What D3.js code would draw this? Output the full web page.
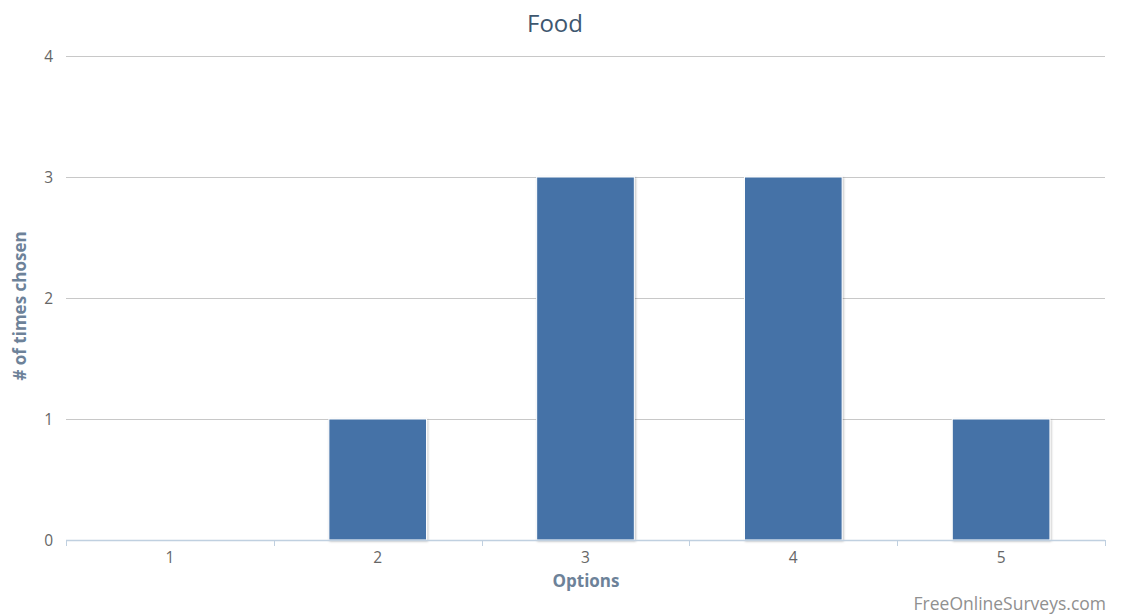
<!DOCTYPE html>
<html>
<head>
<meta charset="utf-8">
<script src="https://cdn.jsdelivr.net/npm/d3@7"></script>
<style>
  html, body { margin: 0; padding: 0; background: #fff; }
  svg { display: block; font-family: "Open Sans", "DejaVu Sans", sans-serif; }
</style>
</head>
<body>
<svg id="chart" width="1121" height="615"></svg>
<script>
// Survey answer counts for the "Food" question
const categories = ["1", "2", "3", "4", "5"];
const counts = [0, 1, 3, 3, 1];
const yTicks = [0, 1, 2, 3, 4];

const W = 1121, H = 615;
const margin = { left: 66, right: 16, top: 56, bottom: 75 };
const svg = d3.select("#chart");

const x = d3.scaleBand()
  .domain(categories)
  .range([margin.left, W - margin.right])
  .paddingInner(0.53)
  .paddingOuter(0.265);

const y = d3.scaleLinear()
  .domain([0, 4])
  .range([H - margin.bottom, margin.top]);

// Horizontal grid lines with value labels
const grid = svg.append("g");
grid.selectAll("line")
  .data(yTicks.filter(d => d > 0))
  .join("line")
  .attr("x1", margin.left).attr("x2", W - margin.right)
  .attr("y1", d => Math.round(y(d)) + 0.5).attr("y2", d => Math.round(y(d)) + 0.5)
  .attr("stroke", "#c8c8c8").attr("stroke-width", 1);

svg.append("g").selectAll("text")
  .data(yTicks)
  .join("text")
  .attr("x", 53).attr("y", d => y(d) + 6)
  .attr("text-anchor", "end")
  .attr("fill", "#666").attr("font-size", 15.5)
  .text(d => d);

// Bars with a soft drop shadow and thin white outline
const defs = svg.append("defs");
const f = defs.append("filter").attr("id", "shadow")
  .attr("x", "-10%").attr("y", "-10%").attr("width", "130%").attr("height", "130%");
f.append("feDropShadow").attr("dx", 1).attr("dy", 1).attr("stdDeviation", 1)
  .attr("flood-color", "#000").attr("flood-opacity", 0.25);

svg.append("g").selectAll("rect")
  .data(categories.map((c, i) => ({ c, v: counts[i] })).filter(d => d.v > 0))
  .join("rect")
  .attr("x", d => x(d.c))
  .attr("y", d => y(d.v))
  .attr("width", x.bandwidth())
  .attr("height", d => y(0) - y(d.v))
  .attr("fill", "#4572a7")
  .attr("stroke", "#fff").attr("stroke-width", 1)
  .attr("filter", "url(#shadow)");

// X axis line, boundary ticks and category labels
const step = x.step();
const boundaries = d3.range(categories.length + 1).map(i => margin.left + i * step);
svg.append("line")
  .attr("x1", margin.left).attr("x2", W - margin.right)
  .attr("y1", y(0) + 0.5).attr("y2", y(0) + 0.5)
  .attr("stroke", "#c0d0e0").attr("stroke-width", 1.5);
svg.append("g").selectAll("line")
  .data(boundaries)
  .join("line")
  .attr("x1", d => Math.round(d) + 0.5).attr("x2", d => Math.round(d) + 0.5)
  .attr("y1", y(0)).attr("y2", y(0) + 6)
  .attr("stroke", "#c0d0e0").attr("stroke-width", 1);
svg.append("g").selectAll("text")
  .data(categories)
  .join("text")
  .attr("x", d => x(d) + x.bandwidth() / 2)
  .attr("y", y(0) + 23)
  .attr("text-anchor", "middle")
  .attr("fill", "#666").attr("font-size", 15.5)
  .text(d => d);

// Titles
svg.append("text")
  .attr("x", 555).attr("y", 32)
  .attr("text-anchor", "middle")
  .attr("fill", "#3e576f").attr("font-size", 24)
  .text("Food");

svg.append("text")
  .attr("x", 586).attr("y", 587)
  .attr("text-anchor", "middle")
  .attr("fill", "#6d8299").attr("font-size", 17).attr("font-weight", "bold")
  .text("Options");

svg.append("text")
  .attr("transform", `translate(26,${(y(0) + y(4)) / 2 + 8}) rotate(-90)`)
  .attr("text-anchor", "middle")
  .attr("fill", "#6d8299").attr("font-size", 17).attr("font-weight", "bold")
  .text("# of times chosen");

svg.append("text")
  .attr("x", 1106).attr("y", 610)
  .attr("text-anchor", "end")
  .attr("fill", "#909090").attr("font-size", 17.5)
  .text("FreeOnlineSurveys.com");
</script>
</body>
</html>
